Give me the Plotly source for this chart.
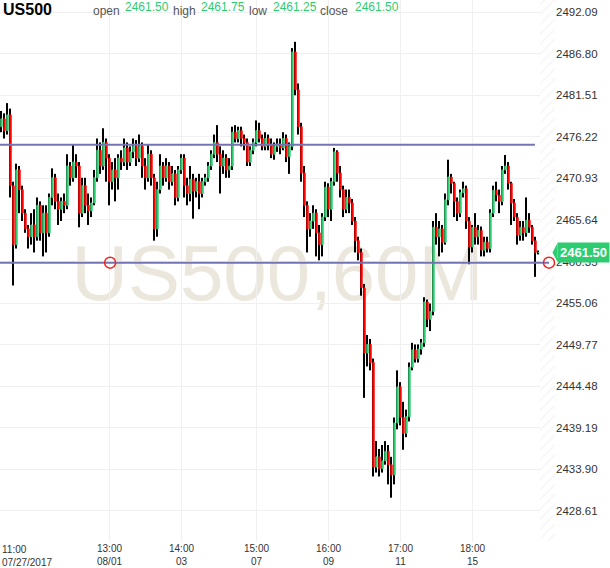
import plotly.graph_objects as go

SYMBOL = "US500"
TIMEFRAME = "60M"

# hourly candles (oldest first)
opens = [
    2477.5, 2478.5, 2477.0, 2479.0, 2470.0, 2462.5, 2472.0, 2469.5, 2466.5, 2464.5,
    2463.5, 2465.0, 2463.5, 2467.5, 2464.0, 2466.5, 2464.0, 2468.5, 2471.0, 2468.0,
    2467.0, 2468.0, 2467.5, 2472.5, 2471.0, 2473.0, 2472.5, 2466.5, 2470.0, 2467.5,
    2466.8, 2467.8, 2471.0, 2474.5, 2472.5, 2475.5, 2473.5, 2470.5, 2472.0, 2471.0,
    2473.5, 2473.0, 2474.8, 2473.0, 2474.3, 2475.0, 2473.5, 2475.0, 2472.5, 2471.0,
    2474.0, 2471.0, 2464.5, 2469.5, 2472.5, 2471.0, 2472.5, 2470.5, 2471.5, 2468.5,
    2472.0, 2473.5, 2470.0, 2469.0, 2470.8, 2469.3, 2470.5, 2469.0, 2470.5, 2471.0,
    2472.5, 2474.0, 2475.5, 2474.0, 2472.5, 2473.5, 2472.0, 2472.5, 2476.8, 2476.0,
    2477.0, 2476.0, 2475.5, 2473.0, 2474.5, 2475.5, 2477.0, 2476.0, 2475.0, 2476.0,
    2475.3, 2474.0, 2475.0, 2475.3, 2474.8, 2476.0, 2473.7, 2475.0, 2487.0, 2482.2,
    2477.5, 2471.6, 2467.5, 2464.5, 2465.5, 2466.5, 2464.0, 2462.5, 2466.0, 2469.8,
    2467.0, 2470.5, 2474.3, 2471.6, 2469.5, 2467.0, 2468.5, 2467.8, 2465.5, 2463.0,
    2461.5, 2457.0, 2448.7, 2449.8, 2447.5, 2434.2, 2435.5, 2434.0, 2435.0, 2436.2,
    2434.5, 2433.2, 2439.8, 2444.4, 2440.5, 2438.5, 2440.6, 2446.9, 2449.1, 2448.0,
    2449.2, 2450.0, 2455.2, 2453.0, 2454.0, 2464.7, 2463.5, 2464.5, 2462.8, 2468.2,
    2471.1, 2470.3, 2468.0, 2466.5, 2469.1, 2469.6, 2465.5, 2462.2, 2464.7, 2463.5,
    2464.3, 2461.8, 2462.8, 2462.0, 2466.5, 2469.4, 2468.8, 2468.0, 2472.0, 2472.5,
    2470.3, 2467.8, 2466.0, 2463.7, 2464.7, 2464.0, 2465.6, 2464.7, 2463.0, 2461.5,
]
highs = [
    2479.5, 2479.2, 2480.5, 2479.8, 2470.5, 2472.8, 2472.5, 2470.0, 2467.0, 2465.0,
    2466.5, 2467.0, 2468.5, 2468.0, 2467.5, 2467.5, 2469.0, 2472.2, 2471.5, 2469.0,
    2468.5, 2469.0, 2474.0, 2473.0, 2475.2, 2474.0, 2473.0, 2471.0, 2471.0, 2469.0,
    2468.5, 2472.0, 2476.0, 2475.5, 2477.3, 2476.0, 2474.0, 2473.0, 2473.5, 2474.0,
    2474.5, 2476.0, 2475.5, 2475.0, 2476.0, 2475.8, 2476.5, 2475.5, 2473.5, 2475.3,
    2474.5, 2471.5, 2470.5, 2474.0, 2473.0, 2473.5, 2473.0, 2472.5, 2472.0, 2472.5,
    2474.0, 2474.0, 2471.0, 2472.5, 2471.5, 2471.0, 2471.5, 2471.0, 2471.5, 2473.0,
    2474.5, 2476.5, 2477.7, 2475.0, 2474.5, 2474.0, 2473.5, 2477.5, 2477.7, 2477.5,
    2477.5, 2476.5, 2476.0, 2475.0, 2476.0, 2478.3, 2478.0, 2476.5, 2476.8, 2476.5,
    2476.0, 2475.5, 2476.0, 2476.0, 2476.8, 2476.5, 2475.5, 2487.5, 2488.3, 2483.0,
    2478.0, 2472.5, 2468.0, 2466.5, 2467.5, 2467.0, 2465.0, 2466.5, 2470.5, 2470.3,
    2471.0, 2474.8, 2474.5, 2472.5, 2470.0, 2469.5, 2469.5, 2468.3, 2466.0, 2463.5,
    2462.0, 2457.5, 2451.0, 2450.5, 2448.0, 2437.5, 2436.5, 2437.0, 2437.5, 2437.0,
    2435.5, 2440.5, 2446.5, 2445.0, 2442.5, 2441.5, 2447.5, 2450.0, 2449.8, 2449.8,
    2450.5, 2455.8, 2455.5, 2455.0, 2465.5, 2466.5, 2465.5, 2465.0, 2469.0, 2473.3,
    2471.5, 2470.5, 2468.5, 2469.5, 2470.5, 2470.0, 2466.0, 2465.0, 2466.5, 2465.0,
    2464.8, 2463.5, 2463.5, 2467.0, 2470.0, 2470.5, 2469.5, 2472.5, 2473.9, 2473.0,
    2470.5, 2468.3, 2466.5, 2465.5, 2465.5, 2468.5, 2466.5, 2465.0, 2463.5, 2461.75,
]
lows = [
    2476.8, 2476.0, 2476.5, 2468.5, 2457.3, 2462.0, 2466.5, 2465.5, 2464.0, 2462.0,
    2462.5, 2461.5, 2463.0, 2463.0, 2461.0, 2461.5, 2463.5, 2467.5, 2467.0, 2465.0,
    2465.5, 2466.5, 2467.0, 2470.0, 2470.5, 2471.0, 2464.7, 2466.0, 2466.5, 2465.0,
    2466.0, 2467.5, 2470.5, 2471.5, 2472.0, 2470.5, 2467.5, 2469.5, 2468.0, 2469.5,
    2472.0, 2472.5, 2472.0, 2472.5, 2473.5, 2472.5, 2473.0, 2471.0, 2469.5, 2470.5,
    2470.0, 2463.0, 2463.5, 2469.0, 2470.0, 2470.5, 2469.5, 2470.0, 2467.5, 2468.0,
    2471.5, 2468.5, 2467.5, 2468.0, 2465.8, 2468.5, 2467.0, 2468.5, 2470.0, 2470.5,
    2472.0, 2473.5, 2473.0, 2469.0, 2471.5, 2471.0, 2471.0, 2472.0, 2475.5, 2475.5,
    2475.0, 2474.5, 2472.5, 2472.5, 2474.0, 2475.0, 2475.5, 2474.5, 2474.5, 2474.5,
    2473.5, 2473.3, 2474.3, 2474.0, 2474.5, 2473.0, 2471.5, 2474.5, 2481.5, 2476.5,
    2470.5, 2466.0, 2461.5, 2463.5, 2464.5, 2461.0, 2460.5, 2461.0, 2465.5, 2466.0,
    2465.5, 2470.0, 2470.5, 2468.5, 2466.0, 2466.5, 2466.5, 2465.0, 2461.5, 2460.5,
    2456.0, 2443.0, 2447.0, 2446.5, 2433.0, 2433.5, 2433.0, 2433.5, 2434.5, 2432.0,
    2430.3, 2432.0, 2439.0, 2439.5, 2436.4, 2438.0, 2440.0, 2446.5, 2447.5, 2447.5,
    2448.5, 2449.5, 2452.0, 2451.5, 2453.5, 2462.5, 2461.0, 2461.5, 2462.5, 2467.5,
    2469.0, 2466.0, 2465.5, 2466.0, 2468.5, 2464.5, 2460.0, 2461.5, 2462.5, 2462.5,
    2461.0, 2461.0, 2461.5, 2461.5, 2466.0, 2468.0, 2466.5, 2467.5, 2471.5, 2469.5,
    2465.0, 2465.5, 2462.5, 2463.0, 2463.0, 2463.5, 2464.0, 2462.5, 2458.4, 2461.25,
]
closes = [
    2478.5, 2477.0, 2479.0, 2470.0, 2462.5, 2472.0, 2469.5, 2466.5, 2464.5, 2463.5,
    2465.0, 2463.5, 2467.5, 2464.0, 2466.5, 2464.0, 2468.5, 2471.0, 2468.0, 2467.0,
    2468.0, 2467.5, 2472.5, 2471.0, 2473.0, 2472.5, 2466.5, 2470.0, 2467.5, 2466.8,
    2467.8, 2471.0, 2474.5, 2472.5, 2475.5, 2473.5, 2470.5, 2472.0, 2471.0, 2473.5,
    2473.0, 2474.8, 2473.0, 2474.3, 2475.0, 2473.5, 2475.0, 2472.5, 2471.0, 2474.0,
    2471.0, 2464.5, 2469.5, 2472.5, 2471.0, 2472.5, 2470.5, 2471.5, 2468.5, 2472.0,
    2473.5, 2470.0, 2469.0, 2470.8, 2469.3, 2470.5, 2469.0, 2470.5, 2471.0, 2472.5,
    2474.0, 2475.5, 2474.0, 2472.5, 2473.5, 2472.0, 2472.5, 2476.8, 2476.0, 2477.0,
    2476.0, 2475.5, 2473.0, 2474.5, 2475.5, 2477.0, 2476.0, 2475.0, 2476.0, 2475.3,
    2474.0, 2475.0, 2475.3, 2474.8, 2476.0, 2473.7, 2475.0, 2487.0, 2482.2, 2477.5,
    2471.6, 2467.5, 2464.5, 2465.5, 2466.5, 2464.0, 2462.5, 2466.0, 2469.8, 2467.0,
    2470.5, 2474.3, 2471.6, 2469.5, 2467.0, 2468.5, 2467.8, 2465.5, 2463.0, 2461.5,
    2457.0, 2448.7, 2449.8, 2447.5, 2434.2, 2435.5, 2434.0, 2435.0, 2436.2, 2434.5,
    2433.2, 2439.8, 2444.4, 2440.5, 2438.5, 2440.6, 2446.9, 2449.1, 2448.0, 2449.2,
    2450.0, 2455.2, 2453.0, 2454.0, 2464.7, 2463.5, 2464.5, 2462.8, 2468.2, 2471.1,
    2470.3, 2468.0, 2466.5, 2469.1, 2469.6, 2465.5, 2462.2, 2464.7, 2463.5, 2464.3,
    2461.8, 2462.8, 2462.0, 2466.5, 2469.4, 2468.8, 2468.0, 2472.0, 2472.5, 2470.3,
    2467.8, 2466.0, 2463.7, 2464.7, 2464.0, 2465.6, 2464.7, 2463.0, 2461.5, 2461.5,
]

# time axis labels (bar index -> label)
time_ticks = [36, 60, 85, 109, 133, 157]
time_labels = ["13:00<br>08/01", "14:00<br>03", "15:00<br>07", "16:00<br>09",
               "17:00<br>11", "18:00<br>15"]
first_label = "11:00<br>07/27/2017"

price_ticks = [2428.61, 2433.90, 2439.19, 2444.48, 2449.77, 2455.06, 2460.35,
               2465.64, 2470.93, 2476.22, 2481.51, 2486.80, 2492.09]

# two horizontal trend lines: level, end bar
line_levels = [2475.2, 2460.2]
line_ends = [177.8, 182.5]
anchor_bars = [36.2, 182.5]   # red handles on the lower line

GREEN = "#2ecc71"
RED = "#ff0000"
FONT = "Liberation Sans, Arial, sans-serif"

X_RANGE = [-0.5, 184.5]
Y_RANGE = [2424.79, 2493.62]
PLOT_H = 541

n = len(closes)
idx = list(range(n))

fig = go.Figure()

# future area hatch on the right
fig.add_trace(go.Scatter(
    x=[n - 0.5, X_RANGE[1], X_RANGE[1], n - 0.5, n - 0.5],
    y=[Y_RANGE[0], Y_RANGE[0], Y_RANGE[1], Y_RANGE[1], Y_RANGE[0]],
    fill='toself', mode='none', fillcolor='white',
    fillpattern=dict(shape='/', fgcolor='#e4e4e4', bgcolor='white', size=7, solidity=0.15),
    hoverinfo='skip', showlegend=False,
))

# wicks (thin bars so the bodies can sit on top of them)
fig.add_trace(go.Bar(
    x=idx, y=[h - l for h, l in zip(highs, lows)], base=lows,
    width=0.34, marker=dict(color='black', line=dict(width=0)),
    hoverinfo='skip', showlegend=False,
))

# bodies
colors = [GREEN if c >= o else RED for o, c in zip(opens, closes)]
fig.add_trace(go.Bar(
    x=idx, y=[c - o for o, c in zip(opens, closes)], base=opens,
    width=0.45, marker=dict(color=colors, line=dict(color=colors, width=1)),
    hoverinfo='skip', showlegend=False,
))

# trend lines
for lvl, end in zip(line_levels, line_ends):
    fig.add_trace(go.Scatter(
        x=[X_RANGE[0], end], y=[lvl, lvl], mode='lines',
        line=dict(color='#7474b4', width=2), hoverinfo='skip', showlegend=False,
    ))
fig.add_trace(go.Scatter(
    x=anchor_bars, y=[line_levels[1]] * len(anchor_bars), mode='markers',
    marker=dict(symbol='circle-open', size=11, color='#ee2222', line=dict(width=1.5)),
    cliponaxis=False, hoverinfo='skip', showlegend=False,
))


def py(px):
    # pixel from top of plot -> paper coordinate
    return 1 - px / PLOT_H


anns = [
    dict(text=f"<b>{SYMBOL}</b>", x=1, y=9.5, size=16, color='black'),
    dict(text="open", x=91, y=10.5, size=12, color='#555'),
    dict(text=f"{opens[-1]:.2f}", x=123, y=7.5, size=12, color=GREEN),
    dict(text="high", x=171, y=10.5, size=12, color='#555'),
    dict(text=f"{highs[-1]:.2f}", x=199, y=7.5, size=12, color=GREEN),
    dict(text="low", x=247, y=10.5, size=12, color='#555'),
    dict(text=f"{lows[-1]:.2f}", x=271, y=7.5, size=12, color=GREEN),
    dict(text="close", x=318, y=10.5, size=12, color='#555'),
    dict(text=f"{closes[-1]:.2f}", x=353, y=7.5, size=12, color=GREEN),
]
for a in anns:
    fig.add_annotation(
        text=a['text'], xref='paper', yref='paper', x=a['x'] / 555, y=py(a['y']),
        xanchor='left', yanchor='middle', showarrow=False,
        font=dict(family=FONT, size=a['size'], color=a['color']),
    )

# first time label sits flush left
fig.add_annotation(
    text=first_label, xref='paper', yref='paper', x=0, y=0, xanchor='left',
    yanchor='top', align='left', showarrow=False, yshift=-1,
    font=dict(family=FONT, size=10, color='#333'),
)

# last price tag
fig.add_annotation(
    text=f"<b>{closes[-1]:.2f}</b>", xref='paper', yref='y', x=1, y=closes[-1],
    xanchor='left', yanchor='middle', showarrow=False, xshift=2,
    bgcolor=GREEN, borderpad=2, font=dict(family=FONT, size=13, color='white'),
)
fig.add_shape(
    type='path', xref='paper', yref='y', layer='above',
    path=f"M 0.9955,{closes[-1]} L 1.0045,{closes[-1] + 1.2} L 1.0045,{closes[-1] - 1.2} Z",
    fillcolor=GREEN, line=dict(width=0),
)

# watermark
fig.add_shape(
    type='rect', xref='paper', yref='paper', x0=0.05, x1=0.95,
    y0=py(300), y1=py(232), layer='below', line=dict(width=0),
    fillcolor='rgba(0,0,0,0)',
    label=dict(text=f"{SYMBOL},{TIMEFRAME}", textposition='middle center',
               font=dict(family=FONT, size=78, color='#ece7dc')),
)

fig.update_layout(
    width=610, height=568,
    margin=dict(l=0, r=55, t=0, b=568 - PLOT_H, pad=0),
    plot_bgcolor='white', paper_bgcolor='white',
    showlegend=False, hovermode=False, barmode='overlay',
    font=dict(family=FONT, size=11, color='#333'),
)
fig.update_xaxes(
    range=X_RANGE, tickmode='array', tickvals=time_ticks, ticktext=time_labels,
    showgrid=True, gridcolor='#f0f0f0', gridwidth=1, zeroline=False, showline=False,
    ticks='', tickfont=dict(family=FONT, size=10, color='#333'), automargin=False,
)
fig.update_yaxes(
    range=Y_RANGE, side='right', tickmode='array', tickvals=price_ticks,
    ticktext=[f"{v:.2f}" for v in price_ticks],
    showgrid=True, gridcolor='#f0f0f0', gridwidth=1, zeroline=False, showline=False,
    ticks='', tickfont=dict(family=FONT, size=11.5, color='#333'), automargin=False,
)

fig.write_html("out.html", config={'displayModeBar': False},
               post_script="document.body.style.margin='0';document.body.style.padding='0';")
